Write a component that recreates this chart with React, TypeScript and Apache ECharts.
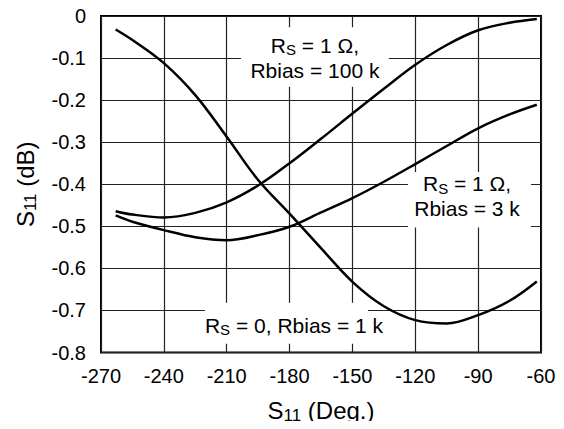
import React, { useEffect, useRef } from 'react';
import * as echarts from 'echarts';

// S11 phase (deg) sample positions shared by all three curves
const degrees = [-263, -255, -240, -225, -210, -195, -180, -165, -150, -135, -120, -105, -90, -75, -62];
// Rs = 0, Rbias = 1 k
const rs0Rbias1k = [-0.032, -0.057, -0.112, -0.188, -0.287, -0.39, -0.47, -0.552, -0.632, -0.69, -0.723, -0.731, -0.711, -0.677, -0.631];
// Rs = 1 Ω, Rbias = 100 k
const rs1Rbias100k = [-0.464, -0.472, -0.479, -0.468, -0.443, -0.403, -0.35, -0.292, -0.232, -0.173, -0.116, -0.069, -0.034, -0.016, -0.007];
// Rs = 1 Ω, Rbias = 3 k
const rs1Rbias3k = [-0.474, -0.489, -0.509, -0.526, -0.533, -0.521, -0.501, -0.467, -0.433, -0.394, -0.352, -0.309, -0.267, -0.234, -0.211];

const xMin = -270;
const xMax = -60;
const xStep = 30;
const yMin = -0.8;
const yMax = 0;
const yStep = 0.1;

// annotation texts
const labelTop = '{a|R}{s|S}{a| = 1 Ω,}\n{a|Rbias = 100 k}';
const labelRight = '{a|R}{s|S}{a| = 1 Ω,}\n{a|Rbias = 3 k}';
const labelBottom = '{a|R}{s|S}{a| = 0, Rbias = 1 k}';

// annotation anchors in data coordinates: text centre and white mask box
const annTop = { center: [-167.9, -0.0998], box: [-203.2, -0.0267, -132.6, -0.168] };
const annRight = { center: [-95.3, -0.428], box: [-123.5, -0.371, -64.8, -0.503] };
const annBottom = { center: [-177.9, -0.735], box: [-220.4, -0.682, -142.6, -0.779] };

const FONT = '"Liberation Sans", Arial, Helvetica, sans-serif';

const richLabel = {
  a: { fontSize: 21, fontFamily: FONT, color: '#000', lineHeight: 25 },
  s: { fontSize: 15, fontFamily: FONT, color: '#000', lineHeight: 15, padding: [9, 0, 0, 0] },
};

const richName = {
  a: { fontSize: 24, fontFamily: FONT, color: '#000', lineHeight: 28 },
  s: { fontSize: 17, fontFamily: FONT, color: '#000', lineHeight: 17, padding: [10, 0, 0, 0] },
};

export default function App() {
  const ref = useRef<HTMLDivElement>(null);

  useEffect(() => {
    if (!ref.current) return;
    const chart = echarts.init(ref.current, undefined, { renderer: 'svg' });
    const mk = (vals: number[]) => degrees.map((d, i) => [d, vals[i]]);
    const lineStyle = { color: '#000', width: 2.5 };
    const series = [rs0Rbias1k, rs1Rbias100k, rs1Rbias3k].map((vals) => ({
      type: 'line',
      data: mk(vals),
      smooth: 0.35,
      showSymbol: false,
      symbol: 'none',
      lineStyle,
      z: 20,
    }));
    chart.setOption({
      animation: false,
      backgroundColor: '#fff',
      grid: {
        left: 101,
        right: 23,
        top: 16,
        bottom: 74,
        show: true,
        borderColor: '#000',
        borderWidth: 2,
        backgroundColor: 'transparent',
      },
      xAxis: {
        type: 'value',
        min: xMin,
        max: xMax,
        interval: xStep,
        axisLine: { show: false },
        axisTick: { show: false },
        splitLine: { show: true, lineStyle: { color: '#222', width: 1.2 } },
        axisLabel: { color: '#000', fontSize: 20, fontFamily: FONT, margin: 13 },
        name: '{a|S}{s|11}{a| (Deg.)}',
        nameLocation: 'middle',
        nameGap: 44,
        nameTextStyle: { rich: richName },
      },
      yAxis: {
        type: 'value',
        min: yMin,
        max: yMax,
        interval: yStep,
        axisLine: { show: false },
        axisTick: { show: false },
        splitLine: { show: true, lineStyle: { color: '#222', width: 1.2 } },
        axisLabel: {
          color: '#000',
          fontSize: 20,
          fontFamily: FONT,
          margin: 15,
          formatter: (v: number) => (Math.abs(v) < 1e-9 ? '0' : v.toFixed(1)),
        },
        name: '{a|S}{s|11}{a| (dB)}',
        nameLocation: 'middle',
        nameGap: 62,
        nameTextStyle: { rich: richName },
      },
      series,
    });

    const px = (p: number[]) => chart.convertToPixel({ gridIndex: 0 }, p) as number[];
    const graphics: any[] = [];
    [
      [annTop, labelTop],
      [annRight, labelRight],
      [annBottom, labelBottom],
    ].forEach(([ann, text]: any) => {
      const p1 = px([ann.box[0], ann.box[1]]);
      const p2 = px([ann.box[2], ann.box[3]]);
      const c = px(ann.center);
      graphics.push({
        type: 'rect',
        z: 10,
        shape: { x: p1[0], y: p1[1], width: p2[0] - p1[0], height: p2[1] - p1[1] },
        style: { fill: '#fff' },
      });
      graphics.push({
        type: 'text',
        z: 11,
        x: c[0],
        y: c[1],
        style: {
          text,
          rich: richLabel,
          align: 'center',
          verticalAlign: 'middle',
          fill: '#000',
          font: `21px ${FONT}`,
        },
      });
    });
    chart.setOption({ graphic: graphics });

    return () => chart.dispose();
  }, []);

  return <div ref={ref} style={{ width: 564, height: 429, margin: -8 }} />;
}
